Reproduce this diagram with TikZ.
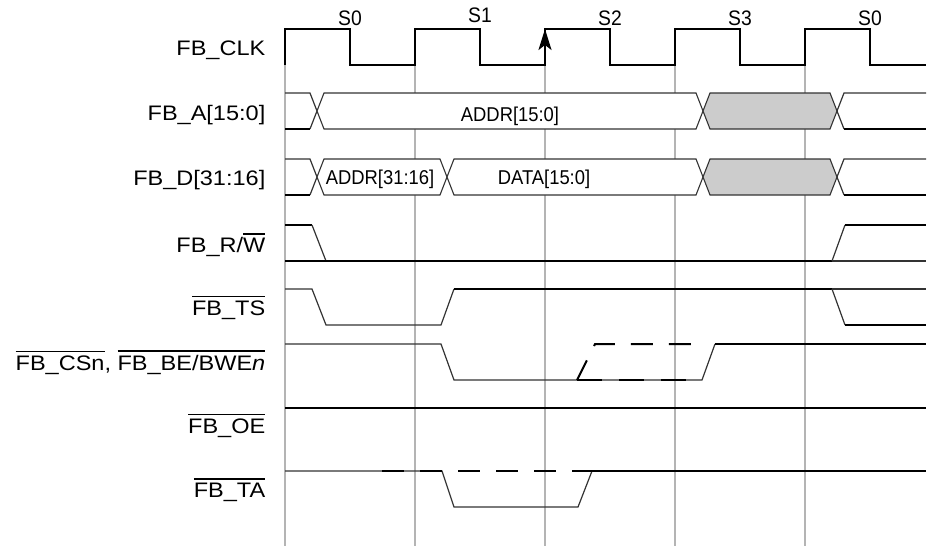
\documentclass[tikz,border=0pt]{standalone}
\usepackage{fontspec}
\setmainfont{Liberation Sans}
\newfontfamily\lblfont{Liberation Sans}[FakeStretch=1.12]
\newfontfamily\busfont{Liberation Sans}[FakeStretch=0.92]
\usetikzlibrary{arrows.meta}
\definecolor{gridgray}{HTML}{B4B4B4}
\definecolor{busgray}{HTML}{CCCCCC}
\definecolor{thingray}{HTML}{333333}
\newcommand\olbar[1]{\vbox{\hrule height 1.4pt\kern 3pt\hbox{#1}}}
\tikzset{
  gridline/.style={draw=gridgray, line width=2pt},
  sig/.style={draw=black, line width=2pt},
  thinsig/.style={draw=thingray, line width=1.2pt},
  bus/.style={draw=thingray, line width=1.1pt, fill=white, line join=miter},
  busx/.style={bus, fill=busgray},
  dsh/.style={draw=black, line width=2pt, dash pattern=on 22pt off 16pt},
  dshb/.style={draw=black, line width=2pt, dash pattern=on 25pt off 17pt},
  lbl/.style={anchor=base east, inner sep=0pt, font=\lblfont\fontsize{21}{24}\selectfont},
  bustxt/.style={anchor=base, inner sep=0pt, font=\busfont\fontsize{20}{23}\selectfont},
  clktxt/.style={anchor=base, inner sep=0pt, font=\busfont\fontsize{21}{24}\selectfont}
}
\begin{document}
\begin{tikzpicture}[x=1pt,y=-1pt]
\useasboundingbox (0,0) rectangle (929,546);

% grid lines
\foreach \x in {285,415,545,675,805} \draw[gridline] (\x,65) -- (\x,546);

% clock
\draw[sig, line join=miter] (285,65) -- (285,29) -- (350,29) -- (350,65) -- (415,65) -- (415,29) -- (480,29) -- (480,65)
  -- (545,65) -- (545,29) -- (610,29) -- (610,65) -- (675,65) -- (675,29) -- (740,29) -- (740,65)
  -- (805,65) -- (805,29) -- (870,29) -- (870,65) -- (926,65);
\coordinate (arrtail) at (545,62);
\coordinate (arrtip) at (545,29);
\draw[line width=2pt, -{Stealth[length=21pt,width=13pt,inset=5pt]}] (arrtail) -- (arrtip);

\node[clktxt] (s0a) at (350,25) {S0};
\node[clktxt] (s1) at (480,22.7) {S1};
\node[clktxt] (s2) at (610,25) {S2};
\node[clktxt] (s3) at (740,25) {S3};
\node[clktxt] (s0b) at (870,25) {S0};

% FB_A
\draw[thinsig] (285,93) -- (310,93) -- (317,111) -- (310,129);
\draw[sig] (285,129) -- (310,129);
\draw[bus] (317,111) -- (324,93) -- (696,93) -- (703,111) -- (696,129) -- (324,129) -- cycle;
\draw[busx] (703,111) -- (710,93) -- (830,93) -- (837,111) -- (830,129) -- (710,129) -- cycle;
\draw[thinsig] (926,93) -- (844,93) -- (837,111) -- (844,129);
\draw[sig] (844,129) -- (926,129);
\node[bustxt] (addra) at (510,121) {ADDR[15:0]};

% FB_D
\draw[thinsig] (285,159) -- (310,159) -- (317,177) -- (310,195);
\draw[sig] (285,195) -- (310,195);
\draw[bus] (317,177) -- (324,159) -- (440,159) -- (447,177) -- (440,195) -- (324,195) -- cycle;
\draw[bus] (447,177) -- (454,159) -- (696,159) -- (703,177) -- (696,195) -- (454,195) -- cycle;
\draw[busx] (703,177) -- (710,159) -- (830,159) -- (837,177) -- (830,195) -- (710,195) -- cycle;
\draw[thinsig] (926,159) -- (844,159) -- (837,177) -- (844,195);
\draw[sig] (844,195) -- (926,195);
\node[bustxt] (addrd) at (380,184) {ADDR[31:16]};
\node[bustxt] (datad) at (544,184) {DATA[15:0]};

% FB_R/W
\draw[sig] (285,225) -- (312,225);
\draw[thinsig] (312,225) -- (326,261);
\draw[sig] (285,261) -- (832,261);
\draw[thinsig] (832,261) -- (926,261);
\draw[thinsig] (832,261) -- (845,225);
\draw[sig] (845,225) -- (926,225);

% FB_TS
\draw[thinsig] (285,289) -- (312,289) -- (326,325) -- (441,325) -- (454,289);
\draw[sig] (454,289) -- (832,289);
\draw[thinsig] (832,289) -- (926,289);
\draw[thinsig] (832,289) -- (845,325);
\draw[sig] (845,325) -- (926,325);

% FB_CSn, FB_BE/BWEn
\draw[thinsig] (285,344) -- (441,344) -- (454,380) -- (702,380) -- (715,344);
\draw[sig] (715,344) -- (926,344);
\draw[dsh] (577,380) -- (595,344) -- (702,344);
\draw[dshb] (577,380) -- (702,380);

% FB_OE
\draw[sig] (285,408) -- (926,408);

% FB_TA
\draw[thinsig] (285,471) -- (442,471) -- (454,507) -- (578,507) -- (592,471);
\draw[sig] (592,471) -- (926,471);
\draw[dsh] (382,471) -- (592,471);

% labels
\node[lbl] (lclk) at (265.5,55.7) {FB\_CLK};
\node[lbl] (la) at (265.5,120) {FB\_A[15:0]};
\node[lbl] (ld) at (265.5,185) {FB\_D[31:16]};
\node[lbl] (lrw) at (265.5,252.3) {FB\_R/\olbar{W}};
\node[lbl] (lts) at (265.5,315) {\olbar{FB\_TS}};
\node[lbl] (lcs) at (265.5,370) {\olbar{FB\_CSn}, \olbar{FB\_BE/BWE\textit{n}}};
\node[lbl] (loe) at (265.5,433) {\olbar{FB\_OE}};
\node[lbl] (lta) at (265.5,497) {\olbar{FB\_TA}};
\end{tikzpicture}
\end{document}
